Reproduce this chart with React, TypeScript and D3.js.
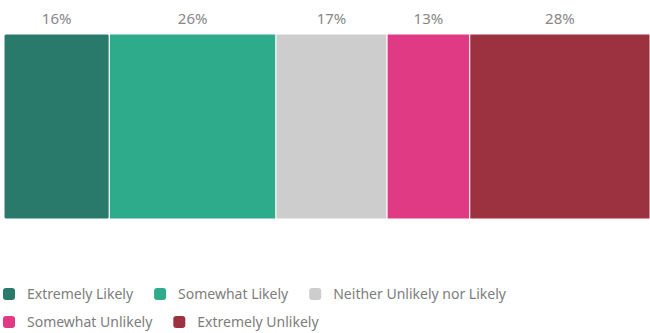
import React, { useEffect, useRef } from "react";
import * as d3 from "d3";

const categories = [
  "Extremely Likely",
  "Somewhat Likely",
  "Neither Unlikely nor Likely",
  "Somewhat Unlikely",
  "Extremely Unlikely",
];
const values = [16.3, 25.8, 17.2, 12.8, 27.9];
const labels = ["16%", "26%", "17%", "13%", "28%"];
const colors = ["#2a7a6c", "#2eab8a", "#cccdcc", "#df3a83", "#9c3140"];

const W = 650;
const H = 333;

export default function App() {
  const ref = useRef<SVGSVGElement | null>(null);

  useEffect(() => {
    const svg = d3.select(ref.current);
    svg.selectAll("*").remove();

    const total = d3.sum(values);
    const x = d3.scaleLinear().domain([0, total]).range([4, 650]);
    const starts = values.map((_, i) => d3.sum(values.slice(0, i)));

    const barTop = 34;
    const barBottom = 219;
    const font = "'Noto Sans', sans-serif";

    const g = svg.append("g");
    g.selectAll("rect.seg")
      .data(values)
      .join("rect")
      .attr("class", "seg")
      .attr("x", (_, i) => x(starts[i]))
      .attr("y", barTop)
      .attr("width", (d, i) => x(starts[i] + d) - x(starts[i]))
      .attr("height", barBottom - barTop)
      .attr("rx", (_, i) => (i === 0 ? 2 : 0))
      .attr("fill", (_, i) => colors[i])
      .attr("stroke", "#ffffff")
      .attr("stroke-width", 1);

    g.selectAll("text.lbl")
      .data(values)
      .join("text")
      .attr("class", "lbl")
      .attr("x", (d, i) => x(starts[i] + d / 2))
      .attr("y", 24)
      .attr("text-anchor", "middle")
      .attr("font-family", font)
      .attr("font-size", 15)
      .attr("fill", "#878787")
      .text((_, i) => labels[i]);

    // legend with flow layout
    const lg = svg.append("g");
    let cx = 3;
    let row = 0;
    const rowY = [294, 322];
    const gap = 21;
    categories.forEach((c, i) => {
      const item = lg.append("g");
      item
        .append("rect")
        .attr("width", 12)
        .attr("height", 12)
        .attr("rx", 3)
        .attr("y", -6)
        .attr("fill", colors[i]);
      const t = item
        .append("text")
        .attr("x", 24)
        .attr("y", 0)
        .attr("dy", "0.35em")
        .attr("font-family", font)
        .attr("font-size", 14)
        .attr("fill", "#7d7d7d")
        .text(c);
      const tw = (t.node() as SVGTextElement).getComputedTextLength();
      const iw = 24 + tw;
      if (cx + iw > W && cx > 4) {
        row += 1;
        cx = 3;
      }
      item.attr("transform", `translate(${cx},${rowY[row]})`);
      cx += iw + gap;
    });
  }, []);

  return (
    <svg
      ref={ref}
      width={W}
      height={H}
      style={{ position: "absolute", left: 0, top: 0, background: "#fff" }}
    />
  );
}
